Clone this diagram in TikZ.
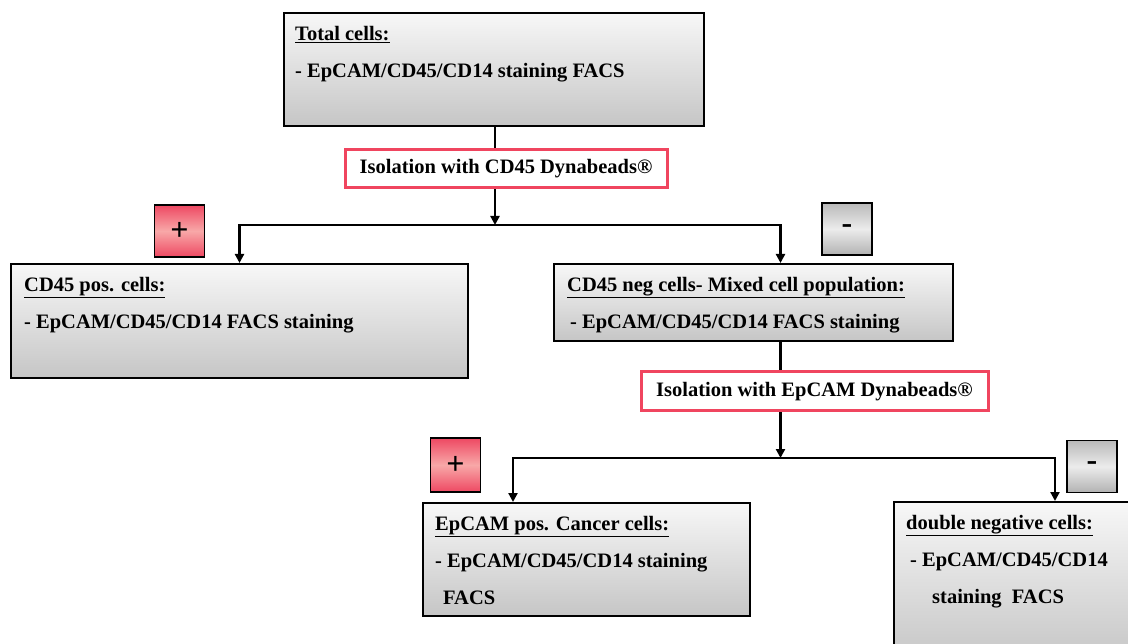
\documentclass[tikz,border=0pt]{standalone}
\usepackage{fontspec}
\setmainfont{Liberation Serif}
\usetikzlibrary{arrows.meta,positioning,calc}

\definecolor{isored}{HTML}{F0455F}
\definecolor{plusred}{HTML}{EE4862}
\definecolor{pluspink}{HTML}{F8A8A8}

\begin{document}
\begin{tikzpicture}[
  x=1pt, y=-1pt,
  every node/.style={font=\fontsize{20.5}{37}\selectfont\bfseries},
  greybox/.style={draw, line width=2pt, rectangle, anchor=north west, inner sep=0pt,
    top color=gray!6, bottom color=gray!45},
  boxtext/.style={anchor=north west, inner sep=0pt, align=left},
  isobox/.style={draw=isored, line width=3pt, fill=white, inner sep=0pt,
    font=\fontsize{20.5}{22}\selectfont\bfseries},
  plusbox/.style={draw, line width=1.5pt, minimum width=50pt, minimum height=52pt,
    top color=plusred, bottom color=plusred, middle color=pluspink,
    font=\fontsize{32}{32}\selectfont\bfseries},
  minusbox/.style={draw, line width=1.5pt, minimum width=50pt, minimum height=52pt,
    top color=gray!55, bottom color=gray!60, middle color=gray!15,
    font=\fontsize{32}{32}\selectfont\bfseries},
  arrow/.style={-{Triangle[length=9pt,width=9pt]}, line width=2.2pt}, % arrow ends on the box below
  link/.style={line width=2.2pt},
  ]

\clip (0,0) rectangle (1128,644);

% first step
\node[greybox, minimum width=420pt, minimum height=113pt] (total) at (283,12) {};
\node[boxtext] (totaltxt) at ([shift={(12,14)}]total.north west)
  {\underline{Total cells:}\\- EpCAM/CD45/CD14 staining FACS};

\node[isobox, minimum width=322pt, minimum height=38pt] (iso1) at (506,169)
  {Isolation with CD45 Dynabeads®};

\node[plusbox] (plus1) at (179.5,231) {+};
\node[minusbox] (minus1) at (847,229) {-};

\node[greybox, minimum width=457pt, minimum height=114pt] (cdpos) at (10,263) {};
\node[boxtext] (cdpostxt) at ([shift={(14,14)}]cdpos.north west)
  {\underline{CD45 pos. cells:}\\- EpCAM/CD45/CD14 FACS staining};

\node[greybox, minimum width=399pt, minimum height=77pt] (cdneg) at (553,263) {};
\node[boxtext] (cdnegtxt) at ([shift={(14,14)}]cdneg.north west)
  {\underline{CD45 neg cells- Mixed cell population:}\\\hspace{3pt}- EpCAM/CD45/CD14 FACS staining};

% second step
\node[isobox, minimum width=347pt, minimum height=39pt] (iso2) at (814.5,391.5)
  {Isolation with EpCAM Dynabeads®};

\node[plusbox, minimum height=54pt] (plus2) at (455.5,465) {+};
\node[minusbox] (minus2) at (1092,466.5) {-};

\node[greybox, minimum width=327pt, minimum height=113pt] (eppos) at (422,502) {};
\node[boxtext] (eppostxt) at ([shift={(13,14)}]eppos.north west)
  {\underline{EpCAM pos. Cancer cells:}\\- EpCAM/CD45/CD14 staining\\\hspace{8pt}FACS};

\node[greybox, minimum width=250pt, minimum height=160pt] (dneg) at (893,501) {};
\node[boxtext] (dnegtxt) at ([shift={(13,14)}]dneg.north west)
  {\underline{double negative cells:}\\\hspace{4pt}- EpCAM/CD45/CD14\\\hspace{26pt}staining\ \ FACS};

% connectors, first split
\coordinate (fork1) at (495,225);
\draw[link] (total.south -| fork1) -- (iso1.north -| fork1);
\draw[arrow] (iso1.south -| fork1) -- (fork1);
\draw[arrow] (fork1) -| (cdpos.north);
\draw[arrow] (fork1) -| ([xshift=27pt]cdneg.north);

% connectors, second split
\coordinate (negout) at ([xshift=27pt]cdneg.south);
\coordinate (fork2) at (negout |- 0,458);
\draw[link] (negout) -- (iso2.north -| negout);
\draw[arrow] (iso2.south -| negout) -- (fork2);
\draw[arrow] (fork2) -| (eppos.north -| 513,0);
\draw[arrow] (fork2) -| (dneg.north -| 1055,0);

\end{tikzpicture}
\end{document}
